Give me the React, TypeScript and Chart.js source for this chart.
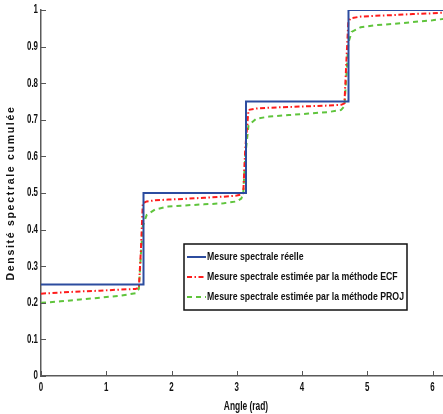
import React, { useEffect, useRef } from "react";
import { Chart, registerables } from "chart.js";

Chart.register(...registerables);

// ---- data ----
const stepAngles = [0, 1.5708, 3.1416, 4.7124, 6.2832];
const stepLevels = [0.25, 0.5, 0.75, 1.0, 1.0];

const estAngles = [0, 0.3, 0.6, 0.9, 1.2, 1.45, 1.5, 1.53, 1.56, 1.62, 1.75, 1.95, 2.2, 2.5, 2.8, 3.0, 3.07, 3.1, 3.13, 3.18, 3.3, 3.5, 3.8, 4.1, 4.4, 4.6, 4.65, 4.68, 4.71, 4.76, 4.9, 5.1, 5.4, 5.7, 6.0, 6.2832];
const ecfValues = [0.225, 0.228, 0.231, 0.233, 0.236, 0.238, 0.241, 0.34, 0.472, 0.477, 0.48, 0.482, 0.484, 0.487, 0.49, 0.493, 0.496, 0.5, 0.62, 0.727, 0.731, 0.733, 0.735, 0.737, 0.739, 0.741, 0.745, 0.86, 0.97, 0.978, 0.982, 0.984, 0.986, 0.989, 0.991, 0.994];
const projValues = [0.2, 0.204, 0.209, 0.214, 0.219, 0.226, 0.238, 0.33, 0.41, 0.44, 0.455, 0.463, 0.466, 0.469, 0.472, 0.477, 0.485, 0.5, 0.6, 0.685, 0.703, 0.709, 0.713, 0.717, 0.721, 0.727, 0.737, 0.82, 0.91, 0.94, 0.953, 0.958, 0.962, 0.967, 0.972, 0.978];

const seriesLabels = [
  "Mesure spectrale réelle",
  "Mesure spectrale estimée par la méthode ECF",
  "Mesure spectrale estimée par la méthode PROJ",
];
const xTitle = "Angle (rad)";
const yTitle = "Densité spectrale cumulée";

const FONT = "'Liberation Sans', Arial, sans-serif";
const TEXT = "#111111";

const fmt = (v: number) => String(Number(v.toFixed(2)));

// draws condensed tick labels and titles, positioned from the chart's scales
const axisText = {
  id: "axisText",
  afterDraw(chart: any) {
    const ctx = chart.ctx;
    const xs = chart.scales.x;
    const ys = chart.scales.y;
    ctx.save();
    ctx.fillStyle = TEXT;
    ctx.font = "bold 12px " + FONT;
    // x tick labels
    ctx.textAlign = "center";
    ctx.textBaseline = "alphabetic";
    xs.ticks.forEach((t: any) => {
      const px = xs.getPixelForValue(t.value);
      ctx.save();
      ctx.translate(px, xs.top + 15);
      ctx.scale(0.66, 1);
      ctx.fillText(fmt(t.value), 0, 0);
      ctx.restore();
    });
    // y tick labels
    ctx.textAlign = "right";
    ctx.textBaseline = "middle";
    ys.ticks.forEach((t: any) => {
      const py = ys.getPixelForValue(t.value);
      ctx.save();
      ctx.translate(ys.right - 3, py);
      ctx.scale(0.66, 1);
      ctx.fillText(fmt(t.value), 0, 0);
      ctx.restore();
    });
    // x title
    ctx.textAlign = "center";
    ctx.textBaseline = "alphabetic";
    ctx.save();
    ctx.translate((xs.left + xs.right) / 2, xs.top + 34);
    ctx.scale(0.7, 1);
    ctx.fillText(xTitle, 0, 0);
    ctx.restore();
    // y title
    ctx.save();
    ctx.translate(11, (ys.top + ys.bottom) / 2);
    ctx.rotate(-Math.PI / 2);
    ctx.font = "bold 10.5px " + FONT;
    try { (ctx as any).letterSpacing = "1.7px"; } catch (e) {}
    ctx.textAlign = "center";
    ctx.textBaseline = "middle";
    ctx.fillText(yTitle, 0, 0);
    ctx.restore();
    ctx.restore();
  },
};

const innerTicks = {
  id: "innerTicks",
  afterDraw(chart: any) {
    const ctx = chart.ctx;
    const xs = chart.scales.x;
    const ys = chart.scales.y;
    ctx.save();
    ctx.strokeStyle = "#555555";
    ctx.lineWidth = 1;
    ctx.beginPath();
    xs.ticks.forEach((t: any) => {
      const px = Math.round(xs.getPixelForValue(t.value)) + 0.5;
      ctx.moveTo(px, xs.top);
      ctx.lineTo(px, xs.top - 5);
    });
    ys.ticks.forEach((t: any) => {
      const py = Math.round(ys.getPixelForValue(t.value)) + 0.5;
      ctx.moveTo(ys.right, py);
      ctx.lineTo(ys.right + 5, py);
    });
    ctx.stroke();
    ctx.restore();
  },
};

const boxLegend = {
  id: "boxLegend",
  afterDatasetsDraw(chart: any) {
    const ctx = chart.ctx;
    const ds = chart.data.datasets;
    ctx.save();
    ctx.font = "bold 11px " + FONT;
    let maxW = 0;
    ds.forEach((d: any) => { maxW = Math.max(maxW, ctx.measureText(d.label).width); });
    const x0 = 184;
    const y0 = 244;
    const w = 223;
    const h = 66;
    const sx = Math.min(1, (w - 26) / maxW);
    ctx.fillStyle = "#ffffff";
    ctx.fillRect(x0, y0, w, h);
    ctx.strokeStyle = "#111111";
    ctx.lineWidth = 1.5;
    ctx.strokeRect(x0, y0, w, h);
    ds.forEach((d: any, i: number) => {
      const yy = y0 + 13 + i * 20;
      ctx.beginPath();
      ctx.strokeStyle = d.borderColor;
      ctx.lineWidth = d.borderWidth;
      ctx.setLineDash(d.borderDash || []);
      ctx.moveTo(x0 + 3, yy);
      ctx.lineTo(x0 + 22, yy);
      ctx.stroke();
      ctx.setLineDash([]);
      ctx.save();
      ctx.translate(x0 + 23, yy);
      ctx.scale(sx, 1);
      ctx.fillStyle = TEXT;
      ctx.textBaseline = "middle";
      ctx.textAlign = "left";
      ctx.fillText(d.label, 0, 0);
      ctx.restore();
    });
    ctx.restore();
  },
};

export default function App() {
  const ref = useRef<HTMLCanvasElement | null>(null);
  useEffect(() => {
    if (!ref.current) return;
    const chart = new Chart(ref.current, {
      type: "line",
      data: {
        datasets: [
          {
            label: seriesLabels[0],
            data: stepAngles.map((a, i) => ({ x: a, y: stepLevels[i] })),
            borderColor: "#2c4c9f",
            borderWidth: 2,
            stepped: "before",
            pointRadius: 0,
            fill: false,
          },
          {
            label: seriesLabels[1],
            data: estAngles.map((a, i) => ({ x: a, y: ecfValues[i] })),
            borderColor: "#ff1c1c",
            borderWidth: 2,
            borderDash: [5, 2.5, 1.5, 2.5],
            pointRadius: 0,
            tension: 0,
            fill: false,
          },
          {
            label: seriesLabels[2],
            data: estAngles.map((a, i) => ({ x: a, y: projValues[i] })),
            borderColor: "#5fc43c",
            borderWidth: 2,
            borderDash: [5, 4],
            pointRadius: 0,
            tension: 0,
            fill: false,
          },
        ],
      },
      options: {
        animation: false,
        responsive: false,
        layout: { padding: { top: 10, right: 0, left: 0, bottom: 0 } },
        plugins: { legend: { display: false }, tooltip: { enabled: false } },
        scales: {
          x: {
            type: "linear",
            min: 0,
            max: 6.2832,
            grid: { display: false, drawTicks: false },
            border: { display: true, color: "#5a5a5a", width: 1.5 },
            ticks: { stepSize: 1, includeBounds: false, display: false },
            title: { display: false },
            afterFit: (s: any) => { s.height = 38; },
          },
          y: {
            min: 0,
            max: 1,
            grid: { display: false, drawTicks: false },
            border: { display: true, color: "#5a5a5a", width: 1.5 },
            ticks: { stepSize: 0.1, display: false },
            title: { display: false },
            afterFit: (s: any) => { s.width = 41; },
          },
        },
      },
      plugins: [innerTicks, boxLegend, axisText],
    } as any);
    return () => chart.destroy();
  }, []);
  return (
    <div style={{ position: "fixed", left: 0, top: 0, width: 443, height: 414, overflow: "hidden", background: "#fff" }}>
      <canvas ref={ref} width={451} height={414} style={{ display: "block" }} />
    </div>
  );
}
